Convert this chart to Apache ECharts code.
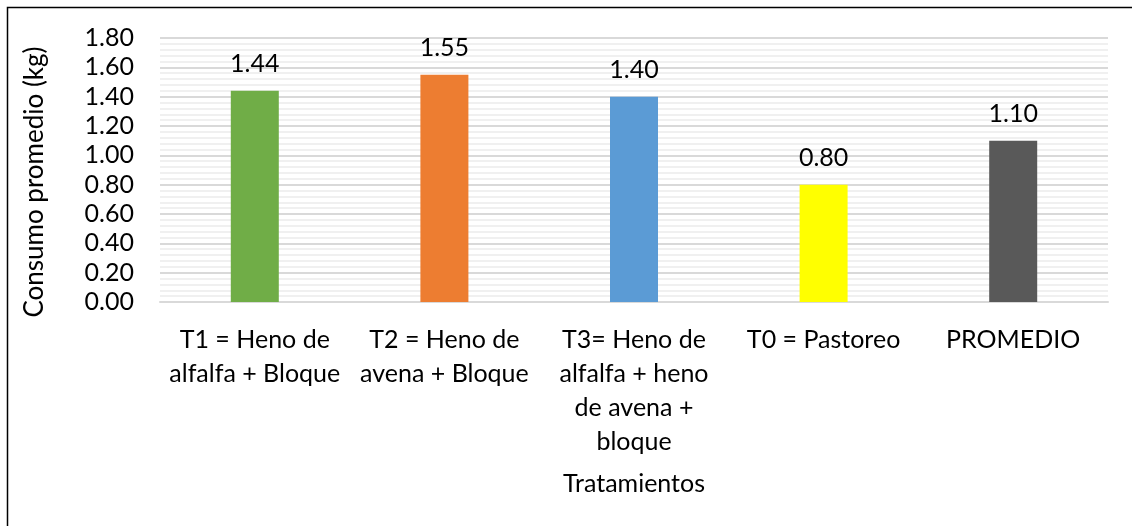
<!DOCTYPE html>
<html>
<head>
<meta charset="utf-8">
<script src="https://cdn.jsdelivr.net/npm/echarts@6/dist/echarts.min.js"></script>
<style>html,body{margin:0;padding:0;background:#fff}#c{width:1132px;height:526px}</style>
</head>
<body>
<div id="c"></div>
<script>
const categories = ["T1 = Heno de\nalfalfa + Bloque", "T2 = Heno de\navena + Bloque", "T3= Heno de\nalfalfa + heno\nde avena +\nbloque", "T0 = Pastoreo", "PROMEDIO"];
const values = [1.44, 1.55, 1.40, 0.80, 1.10];
const barColors = ["#70ad47", "#ed7d31", "#5b9bd5", "#ffff00", "#595959"];
const yAxisTitle = "Consumo promedio (kg)";
const xAxisTitle = "Tratamientos";

const FONT = "Lato";
const FS = 25;
const chart = echarts.init(document.getElementById('c'));
chart.setOption({
  animation: false,
  textStyle: {fontFamily: FONT},
  graphic: [{type: 'rect', shape: {x: 7.5, y: 7.5, width: 1140, height: 540}, style: {fill: 'none', stroke: '#000', lineWidth: 1.5}, silent: true}],
  grid: {left: 160, right: 24, top: 38, bottom: 224},
  xAxis: {
    type: 'category', data: categories,
    axisLine: {lineStyle: {color: '#d9d9d9', width: 2}},
    axisTick: {show: false},
    axisLabel: {color: '#000', fontSize: FS, fontFamily: FONT, lineHeight: 34, margin: 21, interval: 0},
    name: xAxisTitle, nameLocation: 'middle', nameGap: 169,
    nameTextStyle: {color: '#000', fontSize: FS, fontFamily: FONT}
  },
  yAxis: {
    type: 'value', min: 0, max: 1.8, interval: 0.2,
    axisLine: {show: false}, axisTick: {show: false},
    axisLabel: {color: '#000', fontSize: FS, fontFamily: FONT, margin: 26, formatter: v => v.toFixed(2)},
    splitLine: {lineStyle: {color: '#d9d9d9', width: 2}},
    minorTick: {show: false, splitNumber: 5},
    minorSplitLine: {show: true, lineStyle: {color: '#f0f0f0', width: 2}},
    name: yAxisTitle, nameLocation: 'middle', nameGap: 112,
    nameTextStyle: {color: '#000', fontSize: 26, fontFamily: FONT, padding: [0, 24, 0, 0]}
  },
  series: [{
    type: 'bar', barWidth: 48,
    data: values.map((v, i) => ({value: v, itemStyle: {color: barColors[i]}})),
    label: {show: true, position: 'top', distance: 14, color: '#000', fontSize: FS, fontFamily: FONT, formatter: p => p.value.toFixed(2)}
  }]
});
</script>
</body>
</html>
